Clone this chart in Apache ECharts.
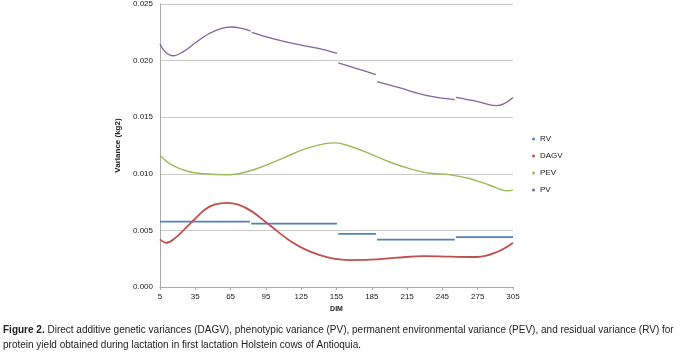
<!DOCTYPE html>
<html>
<head>
<meta charset="utf-8">
<script src="https://cdn.jsdelivr.net/npm/echarts@6/dist/echarts.min.js"></script>
<style>
  html, body { margin: 0; padding: 0; background: #fff; }
  #myChart { width: 683px; height: 353px; }
</style>
</head>
<body>
<div id="myChart"></div>
<script>
  // 刻度
  var dimTicks = [5, 35, 65, 95, 125, 155, 185, 215, 245, 275, 305]
  // RV 阶梯: 分段边界 + 每段数值
  var rvBreaks = [5, 82, 156, 189, 256, 305]
  var rvVals = [0.00577, 0.00559, 0.0047, 0.00418, 0.00441]
  // DAGV
  var dagvDays = [5, 10.7, 17.8, 26.3, 34.8, 43.3, 51.8, 61.7, 71.6, 83, 94.3, 105.6, 117, 128.3, 139.6, 152.4, 166.6, 183.6, 206.3, 229, 251.7, 274.4, 291.4, 305]
  var dagvVals = [0.00421, 0.00391, 0.00432, 0.00515, 0.00603, 0.00685, 0.00729, 0.00744, 0.00727, 0.00668, 0.00579, 0.00485, 0.00397, 0.00332, 0.00286, 0.0025, 0.00238, 0.00241, 0.00259, 0.00273, 0.00268, 0.00265, 0.00309, 0.00391]
  // PEV
  var pevDays = [5, 14.9, 29.1, 43.3, 60.3, 77.3, 94.3, 111.3, 128.3, 145.3, 153.8, 166.6, 183.6, 200.6, 217.7, 234.7, 251.7, 268.7, 285.7, 300, 305]
  var pevVals = [0.01161, 0.01079, 0.0102, 0.0100, 0.00991, 0.01014, 0.01073, 0.01146, 0.0122, 0.01267, 0.01273, 0.01243, 0.01176, 0.01102, 0.01044, 0.01005, 0.00991, 0.00956, 0.00897, 0.0085, 0.00856]
  // PV (分段, null = 断开)
  var pvDays = [5, 9.3, 16.3, 24.8, 34.8, 46.1, 57.5, 66, 74.5, 82, null, 83, 100, 119.8, 139.6, 155.5, null, 156.5, 172, 188.5, null, 189.5, 209, 232, 255.5, null, 256.5, 274, 291, 305]
  var pvVals = [0.02147, 0.02079, 0.02043, 0.02079, 0.02155, 0.02235, 0.02284, 0.02297, 0.02284, 0.02261, null, 0.02249, 0.02196, 0.02147, 0.02108, 0.02064, null, 0.01979, 0.0193, 0.01876, null, 0.01814, 0.01758, 0.0169, 0.01655, null, 0.01675, 0.0164, 0.01602, 0.01675]

  function pairs(xs, ys) {
    var out = []
    for (var i = 0; i < xs.length; i++) {
      if (xs[i] === null) out.push([xs[i - 1], '-'])
      else out.push([xs[i], ys[i]])
    }
    return out
  }
  function steps(b, v) {
    var out = []
    for (var i = 0; i < v.length; i++) {
      out.push([b[i] + (i ? 0.5 : 0), v[i]])
      out.push([b[i + 1] - (i < v.length - 1 ? 0.5 : 0), v[i]])
      if (i < v.length - 1) out.push([b[i + 1], '-'])
    }
    return out
  }

  var myChart = echarts.init(document.getElementById('myChart'))
  var axisFont = { fontFamily: 'Liberation Sans, Arial', fontSize: 8, color: '#222' }
  var option = {
    animation: false,
    color: ['#4F81BD', '#C0504D', '#9BBB59', '#8064A2'],
    grid: { left: 160, right: 170, top: 3, bottom: 66 },
    legend: {
      orient: 'vertical',
      left: 527,
      top: 129,
      icon: 'circle',
      itemWidth: 3,
      itemHeight: 3,
      itemGap: 7,
      textStyle: { fontFamily: 'Liberation Sans, Arial', fontSize: 8, color: '#222', lineHeight: 10 },
      data: ['RV', 'DAGV', 'PEV', 'PV']
    },
    xAxis: {
      type: 'value',
      min: 5,
      max: 305,
      name: 'DIM',
      nameLocation: 'middle',
      nameGap: 16,
      nameTextStyle: { fontFamily: 'Liberation Sans, Arial', fontSize: 7, fontWeight: 'bold', color: '#222' },
      axisLine: { lineStyle: { color: '#aaa' } },
      axisTick: { show: true, customValues: dimTicks, length: 3, lineStyle: { color: '#aaa' } },
      axisLabel: Object.assign({ customValues: dimTicks, margin: 6 }, axisFont),
      splitLine: { show: false }
    },
    yAxis: {
      type: 'value',
      min: 0,
      max: 0.025,
      interval: 0.005,
      name: 'Variance (kg2)',
      nameLocation: 'middle',
      nameGap: 31,
      nameTextStyle: { fontFamily: 'Liberation Sans, Arial', fontSize: 8, fontWeight: 'bold', color: '#222' },
      axisLine: { show: true, lineStyle: { color: '#aaa' } },
      axisTick: { show: false },
      axisLabel: Object.assign({ margin: 7, formatter: function (v) { return v.toFixed(3) } }, axisFont),
      splitLine: { lineStyle: { color: '#c8c8c8' } }
    },
    series: [
      { name: 'RV', type: 'line', data: steps(rvBreaks, rvVals), showSymbol: false, lineStyle: { width: 1.7 } },
      { name: 'DAGV', type: 'line', data: pairs(dagvDays, dagvVals), smooth: 0.4, showSymbol: false, lineStyle: { width: 1.8 } },
      { name: 'PEV', type: 'line', data: pairs(pevDays, pevVals), smooth: 0.4, showSymbol: false, lineStyle: { width: 1.4 } },
      { name: 'PV', type: 'line', data: pairs(pvDays, pvVals), smooth: 0.4, showSymbol: false, lineStyle: { width: 1.3 } }
    ],
    graphic: [{
      type: 'text',
      left: 3,
      top: 323,
      style: {
        text: '{b|Figure 2.} Direct additive genetic variances (DAGV), phenotypic variance (PV), permanent environmental variance (PEV), and residual variance (RV) for\nprotein yield obtained during lactation in first lactation Holstein cows of Antioquia.',
        font: '10px Liberation Sans, Arial',
        fill: '#222',
        lineHeight: 15,
        rich: { b: { fontWeight: 'bold', fontSize: 10, fontFamily: 'Liberation Sans, Arial', fill: '#222' } }
      }
    }]
  }
  myChart.setOption(option)
</script>
</body>
</html>
